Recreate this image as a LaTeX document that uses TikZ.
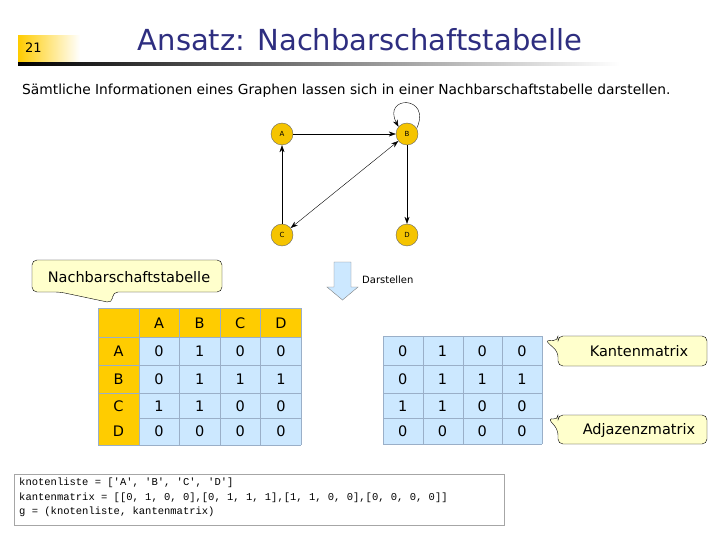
\documentclass[tikz,border=0pt]{standalone}
\usepackage{fontspec}
\setmainfont{DejaVu Sans}
\setmonofont{Liberation Mono}
\usetikzlibrary{arrows.meta}
\definecolor{navy}{HTML}{2E2E80}
\definecolor{gold}{HTML}{F5C400}
\definecolor{hdr}{HTML}{FFCC00}
\definecolor{cell}{HTML}{CCE8FF}
\definecolor{callf}{HTML}{FFFFCC}
\definecolor{gridc}{HTML}{9AAFC8}
\tikzset{
 vert/.style={circle,draw=black!60,fill=gold,minimum size=22pt,inner sep=0pt,font=\fontsize{7}{8}\selectfont},
 edge/.style={-{Stealth[length=7pt,width=5pt]},thin},
 txt/.style={inner sep=0pt,font=\fontsize{13.8}{16}\selectfont},
 ctext/.style={inner sep=0pt,font=\fontsize{14.5}{17}\selectfont},
 call/.style={draw=black,fill=callf,rounded corners=5pt},
}
\begin{document}
\begin{tikzpicture}[x=1pt,y=-1pt]
\useasboundingbox (0,0) rectangle (720,540);
% header
\shade[left color=hdr,right color=white] (18,36) rectangle (80,62);
\node[inner sep=0pt,anchor=west,font=\fontsize{13}{15}\selectfont] (num) at (25,48) {21};
\node[inner sep=0pt,text=navy,font=\fontsize{29}{33}\selectfont] (title) at (360,40) {Ansatz: Nachbarschaftstabelle};
\shade[left color=black,right color=white] (18,62.5) rectangle (620,66);
\node[txt,anchor=west] (sub) at (22,91) {Sämtliche Informationen eines Graphen lassen sich in einer Nachbarschaftstabelle darstellen.};
% graph
\node[vert] (A) at (282,134) {A};
\node[vert] (B) at (407,134) {B};
\node[vert] (C) at (282,235) {C};
\node[vert] (D) at (407,235) {D};
\draw[edge] (A) -- (B);
\draw[edge] (C) -- (A);
\draw[edge] (B) -- (D);
\draw[{Stealth[length=7pt,width=5pt]}-{Stealth[length=7pt,width=5pt]},thin] (C) -- (B);
\draw[edge] (B.30) .. controls (432,95) and (382,95) .. (B.140);
% callout Nachbarschaftstabelle
\draw[call] (32,260) -- (222,260) -- (222,292) -- (113,292) -- (112,303) -- (60,292) -- (32,292) -- cycle;
\node[ctext] (nt) at (129,277) {Nachbarschaftstabelle};
% block arrow
\draw[draw=black!50,fill=cell] (334,262) -- (351,262) -- (351,287) -- (358,287) -- (342.5,300) -- (327,287) -- (334,287) -- cycle;
\node[inner sep=0pt,anchor=west,font=\fontsize{10}{12}\selectfont] (dar) at (362,280) {Darstellen};
% left table
\fill[cell] (139,337) rectangle (301,445);
\fill[hdr] (98,308) rectangle (301,337);
\fill[hdr] (98,308) rectangle (139,445);
\foreach \x in {139,179,220,260,301} \draw[gridc,thin] (\x,308) -- (\x,445);
\draw[gridc,thin] (98,308) -- (98,445);
\foreach \y in {308,337,365,393,445} \draw[gridc,thin] (98,\y) -- (301,\y);
\draw[gridc,thin] (139,418) -- (301,418);
\foreach \t [count=\i] in {A,B,C,D} \node[ctext] (h\i) at (118.5+40.6*\i,323) {\t};
\node[ctext] (rA) at (118.5,351) {A};
\node[ctext] (rB) at (118.5,379) {B};
\node[ctext] (rC) at (118.5,406) {C};
\node[ctext] (rD) at (118.5,431) {D};
\foreach \r/\yy in {{0,1,0,0}/351,{0,1,1,1}/379,{1,1,0,0}/406,{0,0,0,0}/431}{
 \foreach \v [count=\i] in \r { \node[ctext] at (118.5+40.6*\i,\yy) {\v}; }
}
% right matrix
\fill[cell] (383,336) rectangle (542,444);
\foreach \x in {383,423,463,502,542} \draw[gridc,thin] (\x,336) -- (\x,444);
\foreach \y in {336,365,393,418,444} \draw[gridc,thin] (383,\y) -- (542,\y);
\foreach \r/\yy in {{0,1,0,0}/351,{0,1,1,1}/379,{1,1,0,0}/406,{0,0,0,0}/431}{
 \foreach \v [count=\i] in \r { \node[ctext] at (363+39.75*\i,\yy) {\v}; }
}
% callouts right
\draw[call] (558,336) -- (707,336) -- (707,366) -- (558,366) -- (558,352) -- (545,340) -- (558,341) -- cycle;
\node[ctext] (km) at (639,351) {Kantenmatrix};
\draw[call] (558,415) -- (707,415) -- (707,444) -- (558,444) -- (558,430) -- (548,418) -- (558,420) -- cycle;
\node[ctext] (am) at (639,430) {Adjazenzmatrix};
% code box
\draw[black!35,line width=1pt] (14,474) rectangle (504,525);
\node[anchor=north west,inner sep=0pt,align=left,font=\ttfamily\fontsize{10.5}{14.5}\selectfont] (code) at (19,478)
{knotenliste = ['A', 'B', 'C', 'D']\\kantenmatrix = [[0, 1, 0, 0],[0, 1, 1, 1],[1, 1, 0, 0],[0, 0, 0, 0]]\\g = (knotenliste, kantenmatrix)};
\end{tikzpicture}
\end{document}
